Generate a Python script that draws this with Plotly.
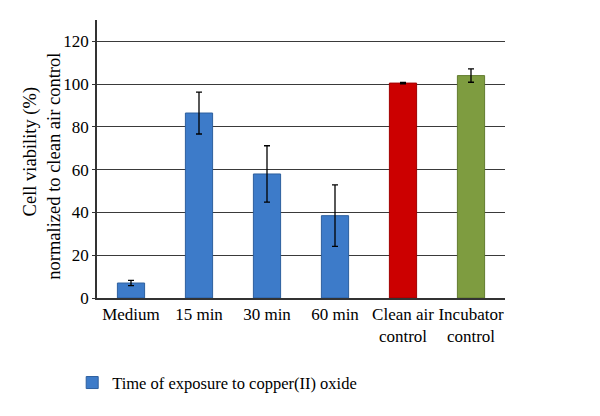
import plotly.graph_objects as go

categories = ["Medium", "15 min", "30 min", "60 min", "Clean air<br>control", "Incubator<br>control"]
exposure_cats = categories[:4]
exposure_vals = [7.0, 86.5, 58.0, 38.5]
exposure_err = [1.2, 9.8, 13.2, 14.4]
clean_vals = [100.5]
clean_err = [0.3]
incub_vals = [104.0]
incub_err = [3.1]
y_title_lines = ["Cell viability (%)", "normalized to clean air control"]

font_family = "Liberation Serif"
err_style = dict(type="data", color="black", thickness=1.3, width=3)

fig = go.Figure()
fig.add_trace(go.Bar(
    x=exposure_cats, y=exposure_vals,
    error_y=dict(array=exposure_err, **err_style),
    marker=dict(color="#3d7bc9", line=dict(color="#2d5f9e", width=1)),
    width=0.4, name="Time of exposure to copper(II) oxide", showlegend=True,
))
fig.add_trace(go.Bar(
    x=[categories[4]], y=clean_vals,
    error_y=dict(array=clean_err, **err_style),
    marker=dict(color="#cc0000", line=dict(color="#a00000", width=1)),
    width=0.4, showlegend=False,
))
fig.add_trace(go.Bar(
    x=[categories[5]], y=incub_vals,
    error_y=dict(array=incub_err, **err_style),
    marker=dict(color="#7e9c40", line=dict(color="#637c30", width=1)),
    width=0.4, showlegend=False,
))

fig.add_annotation(text=y_title_lines[0], xref="paper", yref="paper",
                   x=-0.162, y=0.527, xanchor="center", yanchor="middle",
                   textangle=-90, showarrow=False,
                   font=dict(size=18.5, family=font_family, color="black"))
fig.add_annotation(text=y_title_lines[1], xref="paper", yref="paper",
                   x=-0.106, y=0.475, xanchor="center", yanchor="middle",
                   textangle=-90, showarrow=False,
                   font=dict(size=18.5, family=font_family, color="black"))

fig.update_layout(
    width=600, height=416,
    barmode="overlay",
    plot_bgcolor="white", paper_bgcolor="white",
    margin=dict(l=89, r=103, t=12, b=126, autoexpand=False),
    font=dict(family=font_family, size=17, color="black"),
    showlegend=True,
    legend=dict(orientation="h", xref="container", yref="container",
                x=0.107, y=0.099, xanchor="left", yanchor="middle",
                itemwidth=30, bgcolor="rgba(0,0,0,0)",
                font=dict(size=16.5, family=font_family)),
    xaxis=dict(categoryorder="array", categoryarray=categories,
               showline=True, linecolor="#333", linewidth=1.5,
               tickfont=dict(size=17, family=font_family), ticks=""),
    yaxis=dict(range=[0, 130], tickvals=[0, 20, 40, 60, 80, 100, 120],
               showgrid=True, gridcolor="#3a3a3a", gridwidth=1.4,
               showline=True, linecolor="#333", linewidth=1.5,
               ticks="outside", ticklen=3, tickcolor="#333",
               tickfont=dict(size=17, family=font_family), zeroline=False),
)

fig.write_html("out.html")
